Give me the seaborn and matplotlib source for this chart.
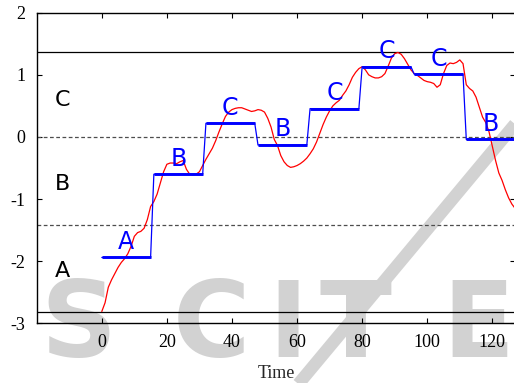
import numpy as np
import pandas as pd
import matplotlib
matplotlib.use("Agg")
import matplotlib.pyplot as plt
from matplotlib.lines import Line2D
import seaborn as sns

# ---- data ----
series = [-2.81, -2.67, -2.42, -2.30, -2.20, -2.10, -2.02, -1.96, -1.88, -1.76,
          -1.60, -1.54, -1.52, -1.47, -1.33, -1.12, -1.04, -0.92, -0.74, -0.56,
          -0.44, -0.42, -0.42, -0.43, -0.40, -0.38, -0.52, -0.60, -0.61, -0.60,
          -0.56, -0.46, -0.36, -0.27, -0.18, -0.06, 0.08, 0.21, 0.33, 0.40,
          0.44, 0.46, 0.47, 0.47, 0.45, 0.43, 0.41, 0.42, 0.44, 0.43,
          0.40, 0.30, 0.16, -0.04, -0.14, -0.30, -0.40, -0.46, -0.49, -0.48,
          -0.46, -0.43, -0.39, -0.34, -0.27, -0.19, -0.08, 0.06, 0.20, 0.32,
          0.42, 0.50, 0.55, 0.59, 0.67, 0.74, 0.84, 0.96, 1.04, 1.10,
          1.13, 1.08, 1.00, 0.97, 0.95, 0.95, 0.97, 1.02, 1.14, 1.27,
          1.34, 1.36, 1.33, 1.26, 1.17, 1.08, 1.02, 0.99, 0.95, 0.91,
          0.89, 0.88, 0.86, 0.80, 0.84, 1.02, 1.15, 1.19, 1.18, 1.20,
          1.24, 1.18, 0.84, 0.78, 0.74, 0.64, 0.48, 0.32, 0.23, 0.08,
          -0.15, -0.38, -0.58, -0.70, -0.85, -0.98, -1.08, -1.15]
paa_values = [-1.94, -0.60, 0.22, -0.13, 0.456, 1.13, 1.01, -0.04]
paa_letters = ["A", "B", "C", "B", "C", "C", "C", "B"]
segment_len = 16
region_letters = ["C", "B", "A"]
region_y = [0.63, -0.73, -2.13]
solid_levels = [1.374, -2.82]
dashed_levels = [0.0, -1.41]
xticks = [0, 20, 40, 60, 80, 100, 120]
yticks = [-3, -2, -1, 0, 1, 2]
xlabel = "Time"
watermark_letters = ["S", "C", "I", "T", "E"]

# ---- style ----
sns.set_style("ticks")
plt.rcParams['font.family'] = ['Liberation Serif', 'DejaVu Serif']
plt.rcParams['axes.unicode_minus'] = False

W, H = 514, 383
fig = plt.figure(figsize=(W / 100, H / 100), dpi=100)
fig.patch.set_facecolor("white")
ax = fig.add_axes([36.7 / W, 1 - 323.3 / H, (515.1 - 36.7) / W, (323.3 - 12.7) / H])
ax.patch.set_alpha(0)

# ---- watermark (behind everything) ----
wm_color = "#d2d2d2"
wm_x = [78, 211, 288, 355, 478]
for letter, px in zip(watermark_letters, wm_x):
    fig.text(px / W, 1 - 357 / H, letter, ha="center", va="baseline",
             fontsize=76, fontweight="bold", color=wm_color,
             family=["DejaVu Sans"], zorder=-5)
fig.add_artist(Line2D([1.02, 298 / W - 0.01], [1 - 113 / H, -0.02],
                      transform=fig.transFigure, color=wm_color, lw=9,
                      solid_capstyle="butt", zorder=-5))

# ---- data lines ----
t = np.arange(len(series))
df = pd.DataFrame({"t": t, "value": series,
                   "paa": np.repeat(paa_values, segment_len)})
sns.lineplot(data=df, x="t", y="value", color="red", lw=0.9, ax=ax, zorder=3)
sns.lineplot(data=df, x="t", y="paa", color="blue", lw=0.9, ax=ax, zorder=4)
starts = np.arange(len(paa_values)) * segment_len
ax.hlines(paa_values, starts, starts + segment_len - 1, color="blue", lw=2.1, zorder=5)

for lvl in solid_levels:
    ax.axhline(lvl, color="black", lw=0.9, zorder=2)
for lvl in dashed_levels:
    ax.axhline(lvl, color="0.3", lw=0.9, ls=(0, (3, 2)), zorder=2)

for s, v, letter in zip(starts, paa_values, paa_letters):
    ax.text(s + (segment_len - 1) / 2, v + 0.14, letter, ha="center", va="baseline",
            color="blue", fontsize=17, family=["DejaVu Sans"], zorder=6)
for letter, y in zip(region_letters, region_y):
    ax.text(-12, y - 0.13, letter, ha="center", va="baseline",
            color="black", fontsize=16, family=["DejaVu Sans"], zorder=6)

# ---- axes ----
ax.set_xlim(-20, 127)
ax.set_ylim(-3, 2)
ax.set_xticks(xticks)
ax.set_yticks(yticks)
ax.set_xticklabels([str(v) for v in xticks])
ax.set_yticklabels([str(v) for v in yticks])
ax.set_xlabel(xlabel, fontsize=13, labelpad=9.5)
ax.set_ylabel("")
ax.tick_params(direction="in", top=True, right=True, length=3.6, width=0.8,
               labelsize=13, pad=8, colors="black")
for sp in ax.spines.values():
    sp.set_linewidth(1.0)
    sp.set_color("black")

fig.savefig("out.png", dpi=100)
